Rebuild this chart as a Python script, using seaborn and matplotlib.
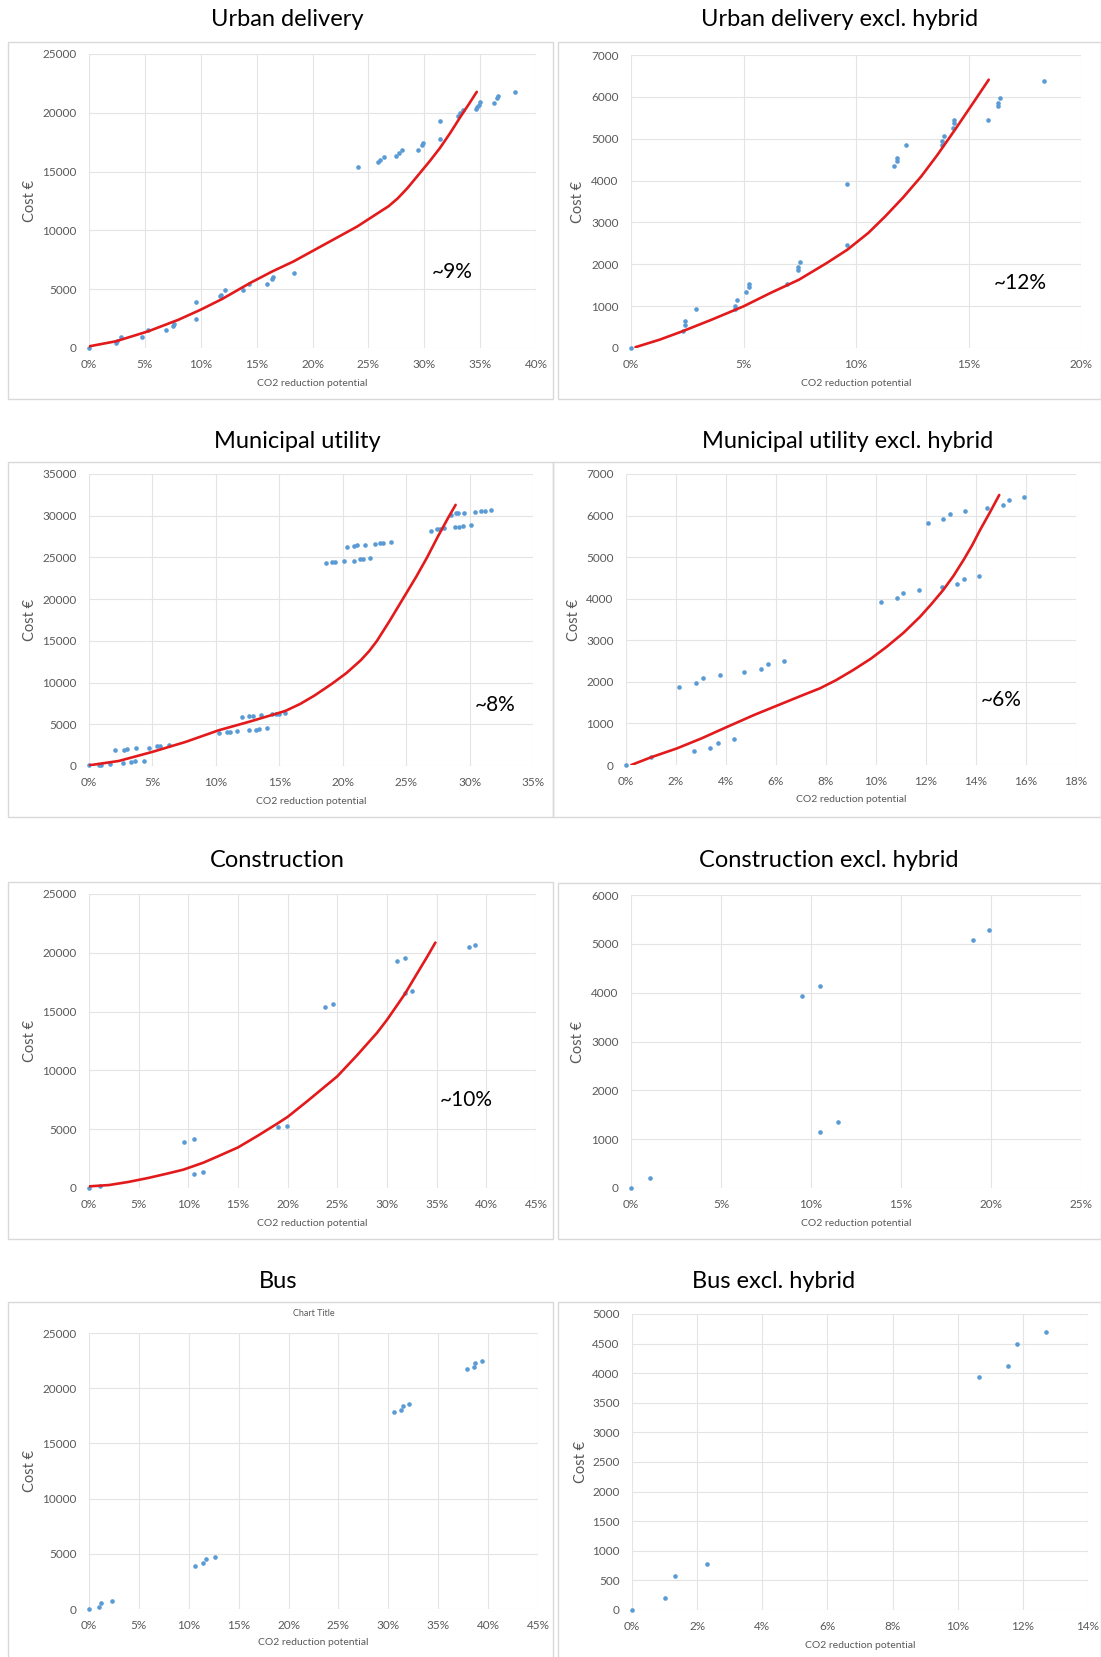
import numpy as np
import pandas as pd
import seaborn as sns
import matplotlib.pyplot as plt
from matplotlib.patches import Rectangle
from matplotlib.ticker import PercentFormatter, MultipleLocator

W, H = 1101, 1657

# x values are CO2 reduction potential in %, y values are cost in EUR

# Urban delivery
urban_x = [0.0, 2.4, 2.5, 2.9, 4.7, 5.3, 6.9, 7.5, 7.6, 9.6, 9.6, 11.7, 11.8, 12.2, 13.8, 14.3,
           15.9, 16.4, 16.5, 18.3, 24.1, 25.9, 26.0, 26.4, 27.5, 27.7, 28.0, 29.4, 29.8, 29.9,
           31.4, 31.4, 33.0, 33.2, 33.5, 34.6, 34.7, 34.9, 35.0, 36.2, 36.5, 36.6, 38.1]
urban_y = [0, 425, 570, 930, 930, 1500, 1560, 1900, 2010, 3880, 2460, 4390, 4530, 4900, 4950, 5460,
           5460, 5860, 6030, 6370, 15380, 15800, 16000, 16280, 16360, 16550, 16840, 16870, 17280, 17400,
           17800, 19280, 19750, 19950, 20230, 20300, 20500, 20700, 20900, 20840, 21240, 21430, 21750]
urban_fit_x = [0, 2.4, 5.3, 8.0, 10.0, 11.9, 14.4, 16.4, 18.3, 20.2, 22.1, 24.0, 25.9, 26.8, 27.6,
               28.5, 29.5, 30.5, 31.4, 32.3, 33.2, 34.0, 34.7]
urban_fit_y = [140, 570, 1420, 2400, 3260, 4160, 5520, 6510, 7360, 8350, 9340, 10330, 11500, 12050,
               12700, 13600, 14750, 15900, 17000, 18250, 19600, 20750, 21780]

# Urban delivery excl. hybrid
urban_eh_x = [0.0, 2.29, 2.4, 2.4, 2.89, 4.63, 4.63, 4.73, 5.11, 5.24, 5.24, 6.93, 7.41, 7.41, 7.5,
              9.62, 9.62, 11.7, 11.8, 11.8, 12.2, 13.8, 13.8, 13.9, 14.3, 14.35, 14.35, 15.88,
              16.3, 16.3, 16.4, 18.35]
urban_eh_y = [0, 400, 560, 640, 930, 930, 1010, 1140, 1330, 1460, 1540, 1540, 1855, 1935, 2055,
              2470, 3925, 4340, 4460, 4540, 4840, 4860, 4940, 5060, 5255, 5375, 5455, 5455,
              5770, 5850, 5970, 6385]
urban_eh_fit_x = [0.2, 1.28, 2.29, 3.6, 5.0, 6.2, 7.46, 8.7, 9.62, 10.55, 11.3, 12.1, 12.9, 13.6,
                  14.4, 15.2, 15.9]
urban_eh_fit_y = [20, 200, 400, 680, 995, 1315, 1630, 2030, 2350, 2750, 3145, 3600, 4100, 4600,
                  5215, 5850, 6410]

# Municipal utility
muni_x = [0.0, 0.77, 0.98, 1.69, 2.08, 2.74, 3.0, 3.71, 4.7, 5.37, 5.63, 6.28, 2.69, 3.34, 3.6, 4.34,
          10.22, 10.88, 11.1, 11.67, 12.58, 13.17, 13.4, 14.03, 12.06, 12.58, 12.93, 13.56, 14.43,
          14.75, 14.96, 15.42, 18.68, 19.16, 19.4, 20.07, 20.86, 21.33, 21.6, 22.17, 20.34, 20.86,
          21.1, 21.72, 22.57, 22.96, 23.2, 23.8, 26.96, 27.43, 27.7, 28.0, 28.87, 29.2, 29.52, 30.1,
          28.5, 28.9, 29.1, 29.6, 30.4, 30.9, 31.2, 31.7]
muni_y = [80, 120, 120, 200, 1880, 1970, 2040, 2160, 2210, 2360, 2450, 2570, 400, 520, 560, 600,
          3960, 4080, 4120, 4200, 4280, 4370, 4400, 4560, 5880, 5960, 6050, 6080, 6200,
          6280, 6280, 6400, 24280, 24440, 24500, 24600, 24600, 24760, 24840, 24960, 26280, 26360,
          26440, 26520, 26560, 26680, 26720, 26800, 28200, 28360, 28440, 28560, 28600, 28640, 28720, 28880,
          30080, 30280, 30360, 30360, 30440, 30560, 30600, 30680]
muni_fit_x = [0, 2.34, 4.97, 7.6, 10.22, 12.85, 15.48, 16.66, 17.78, 19.19, 20.3, 21.44, 22.1,
              22.7, 23.7, 24.73, 25.8, 26.65, 27.5, 28.33, 28.9]
muni_fit_y = [80, 600, 1680, 2880, 4280, 5400, 6600, 7450, 8450, 9900, 11150, 12700, 13800,
              15000, 17400, 20000, 22700, 25000, 27500, 29800, 31300]

# Municipal utility excl. hybrid
muni_eh_x = [0.0, 1.01, 2.11, 2.71, 2.78, 3.06, 3.37, 3.68, 3.75, 4.33, 4.73, 5.41, 5.69, 6.33,
             10.19, 10.83, 11.09, 11.72, 12.07, 12.63, 12.69, 12.96, 13.23, 13.5, 13.57, 14.1,
             14.45, 15.07, 15.32, 15.92]
muni_eh_y = [0, 185, 1885, 340, 1980, 2085, 420, 540, 2165, 620, 2240, 2310, 2430, 2510,
             3930, 4010, 4130, 4210, 5830, 4275, 5910, 6030, 4355, 4475, 6110, 4555,
             6175, 6255, 6375, 6455]
muni_eh_fit_x = [0.21, 1.0, 2.04, 3.02, 4.0, 5.13, 6.11, 7.09, 7.76, 8.4, 9.09, 9.8, 10.43, 11.1,
                 11.76, 12.2, 12.69, 13.1, 13.5, 13.85, 14.16, 14.55, 14.93]
muni_eh_fit_y = [0, 185, 400, 640, 905, 1205, 1445, 1685, 1845, 2040, 2285, 2560, 2845, 3180,
                 3565, 3860, 4210, 4550, 4930, 5290, 5650, 6070, 6495]

# Construction
constr_x = [0.0, 1.1, 9.53, 10.57, 10.57, 11.5, 19.05, 19.91, 23.72, 24.59, 30.98, 31.78, 31.8,
            32.5, 38.3, 38.9]
constr_y = [0, 200, 3935, 4160, 1220, 1390, 5150, 5290, 15430, 15630, 19340, 19530, 16560,
            16760, 20470, 20670]
constr_fit_x = [0, 2.0, 4.0, 6.0, 8.0, 9.5, 11.5, 13.0, 15.0, 17.0, 19.0, 20.0, 22.0, 25.0, 27.0,
                29.0, 30.0, 31.8, 33.0, 34.0, 34.87]
constr_fit_y = [140, 250, 520, 860, 1250, 1560, 2150, 2700, 3450, 4450, 5500, 6050, 7400, 9500,
                11300, 13200, 14300, 16500, 18200, 19600, 20870]

# Construction excl. hybrid
constr_eh_x = [0.0, 1.08, 9.52, 10.48, 10.52, 11.49, 19.02, 19.9]
constr_eh_y = [0, 205, 3940, 4130, 1155, 1360, 5080, 5290]

# Bus
bus_x = [0.0, 0.97, 1.25, 2.33, 10.6, 11.47, 11.76, 12.65, 30.54, 31.25, 31.47, 32.1,
         37.89, 38.57, 38.7, 39.35]
bus_y = [0, 210, 515, 755, 3930, 4140, 4500, 4715, 17840, 18020, 18380, 18560,
         21735, 21920, 22310, 22490]

# Bus excl. hybrid
bus_eh_x = [0.0, 1.0, 1.31, 2.3, 10.65, 11.54, 11.82, 12.72]
bus_eh_y = [0, 203, 574, 777, 3930, 4127, 4493, 4696]

panels = [
    dict(title='Urban delivery', x=urban_x, y=urban_y, fit_x=urban_fit_x, fit_y=urban_fit_y,
         xmax=40, xstep=5, ymax=25000, ystep=5000, note=(32.5, 6500, '~9%'),
         ax_px=(89, 54, 536, 348), frame=(8, 42, 553, 399), title_px=(287, 19), ylab=-0.132),
    dict(title='Urban delivery excl. hybrid', x=urban_eh_x, y=urban_eh_y, fit_x=urban_eh_fit_x,
         fit_y=urban_eh_fit_y, xmax=20, xstep=5, ymax=7000, ystep=1000, note=(17.3, 1550, '~12%'),
         ax_px=(631, 55, 1081, 348), frame=(558, 42, 1101, 399), title_px=(840, 19), ylab=-0.117),
    dict(title='Municipal utility', x=muni_x, y=muni_y, fit_x=muni_fit_x, fit_y=muni_fit_y,
         xmax=35, xstep=5, ymax=35000, ystep=5000, note=(32.0, 7280, '~8%'),
         ax_px=(89, 474, 533, 766), frame=(8, 462, 553, 817), title_px=(297, 442), ylab=-0.133),
    dict(title='Municipal utility excl. hybrid', x=muni_eh_x, y=muni_eh_y, fit_x=muni_eh_fit_x,
         fit_y=muni_eh_fit_y, xmax=18, xstep=2, ymax=7000, ystep=1000, note=(15.0, 1560, '~6%'),
         ax_px=(626, 474, 1076, 765), frame=(553, 462, 1101, 817), title_px=(848, 442), ylab=-0.116),
    dict(title='Construction', x=constr_x, y=constr_y, fit_x=constr_fit_x, fit_y=constr_fit_y,
         xmax=45, xstep=5, ymax=25000, ystep=5000, note=(38.0, 7500, '~10%'),
         ax_px=(89, 894, 536, 1188), frame=(8, 882, 553, 1239), title_px=(277, 861), ylab=-0.132),
    dict(title='Construction excl. hybrid', x=constr_eh_x, y=constr_eh_y, fit_x=None, fit_y=None,
         xmax=25, xstep=5, ymax=6000, ystep=1000, note=None,
         ax_px=(631, 895, 1081, 1188), frame=(558, 883, 1101, 1239), title_px=(829, 861), ylab=-0.117),
    dict(title='Bus', x=bus_x, y=bus_y, fit_x=None, fit_y=None,
         xmax=45, xstep=5, ymax=25000, ystep=5000, note=None,
         ax_px=(89, 1333, 538, 1609), frame=(8, 1302, 553, 1660), title_px=(278, 1282), ylab=-0.132,
         chart_title=True),
    dict(title='Bus excl. hybrid', x=bus_eh_x, y=bus_eh_y, fit_x=None, fit_y=None,
         xmax=14, xstep=2, ymax=5000, ystep=500, note=None,
         ax_px=(632, 1314, 1088, 1610), frame=(558, 1302, 1101, 1660), title_px=(774, 1282), ylab=-0.112),
]

sns.set_style('white')
plt.rcParams['font.family'] = ['Lato', 'DejaVu Sans']

fig = plt.figure(figsize=(W / 100, H / 100), dpi=100)
grey = '#595959'

for p in panels:
    x0, y0, x1, y1 = p['ax_px']
    ax = fig.add_axes([x0 / W, 1 - y1 / H, (x1 - x0) / W, (y1 - y0) / H])

    fx0, fy0, fx1, fy1 = p['frame']
    fig.add_artist(Rectangle((fx0 / W, 1 - fy1 / H), (fx1 - fx0) / W, (fy1 - fy0) / H,
                             transform=fig.transFigure, fill=False, ec='#d9d9d9', lw=1.0))
    fig.text(p['title_px'][0] / W, 1 - p['title_px'][1] / H, p['title'],
             ha='center', va='center', fontsize=17, color='black')

    df = pd.DataFrame({'x': p['x'], 'y': p['y']})
    sns.scatterplot(data=df, x='x', y='y', ax=ax, color='#5b9bd5', s=11, linewidth=0,
                    clip_on=False, zorder=3)
    if p['fit_x'] is not None:
        fit = pd.DataFrame({'x': p['fit_x'], 'y': p['fit_y']})
        sns.lineplot(data=fit, x='x', y='y', ax=ax, color='#e31a1c', lw=1.9, sort=False,
                     estimator=None, zorder=4)
        ax.lines[-1].set_solid_joinstyle('round')
    if p['note'] is not None:
        nx, ny, nt = p['note']
        ax.text(nx, ny, nt, ha='center', va='center', fontsize=15, color='black')

    ax.set_xlim(0, p['xmax'])
    ax.set_ylim(0, p['ymax'])
    ax.xaxis.set_major_locator(MultipleLocator(p['xstep']))
    ax.yaxis.set_major_locator(MultipleLocator(p['ystep']))
    ax.xaxis.set_major_formatter(PercentFormatter(100, decimals=0))
    ax.grid(True, color='#e4e4e4', lw=0.8)
    ax.set_axisbelow(True)
    for s in ax.spines.values():
        s.set_visible(False)
    ax.tick_params(axis='both', length=0, labelsize=8.5, labelcolor=grey)
    ax.tick_params(axis='y', pad=9)
    ax.tick_params(axis='x', pad=8)

    ax.set_xlabel('CO2 reduction potential', fontsize=7.5, color=grey)
    ax.xaxis.set_label_coords(0.5, -0.12)
    ax.xaxis.label.set_va('center')
    ax.set_ylabel('Cost €', fontsize=10.5, color=grey)
    ax.yaxis.set_label_coords(p['ylab'], 0.5)
    ax.yaxis.label.set_va('center')

    if p.get('chart_title'):
        ax.text(0.5, 1.07, 'Chart Title', transform=ax.transAxes, ha='center', va='center',
                fontsize=6.5, color=grey)

fig.savefig('out.png', dpi=100, facecolor='white')
